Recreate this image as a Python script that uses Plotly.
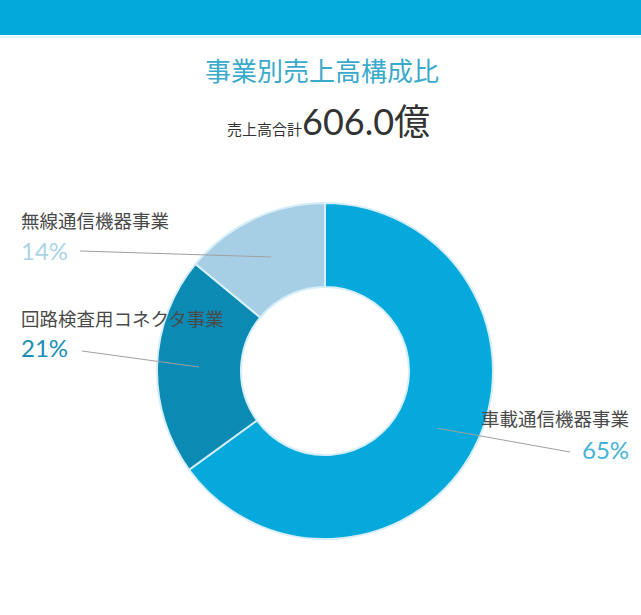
import math
import plotly.graph_objects as go

# ---- data ----
segments = ["車載通信機器事業", "回路検査用コネクタ事業", "無線通信機器事業"]
shares = [65, 21, 14]
total_label = "606.0億"
title_text = "事業別売上高構成比"
subtitle_text = "売上高合計"

# ---- styles ----
W, H = 641, 615
slice_colors = ["#06A9DB", "#0B8BB4", "#A6CFE6"]
pct_colors = ["#45B3D8", "#1A8EB5", "#ABD4E8"]
header_color = "#03A9DA"

# donut geometry in pixels
cx, cy, R = 325, 371, 168
hole = 0.5


def px(x):
    return x / W


def py(y):
    return 1 - y / H


fig = go.Figure()
fig.add_trace(go.Pie(
    labels=segments,
    values=shares,
    sort=False,
    direction="clockwise",
    rotation=0,
    hole=hole,
    textinfo="none",
    hoverinfo="label+percent",
    marker=dict(colors=slice_colors, line=dict(color="#D6EEF8", width=2)),
    domain=dict(x=[px(cx - R), px(cx + R)], y=[py(cy + R), py(cy - R)]),
    showlegend=False,
))

# label layout (pixel positions of text blocks and connector outer ends)
label_pos = {
    "車載通信機器事業": dict(x=631, ty=418, py_=449, anchor="right", lx=570, ly=452),
    "回路検査用コネクタ事業": dict(x=19, ty=318, py_=348, anchor="left", lx=82, ly=351),
    "無線通信機器事業": dict(x=19, ty=220, py_=250, anchor="left", lx=80, ly=251),
}

annotations = []
shapes = [
    dict(type="rect", xref="paper", yref="paper", x0=0, x1=1, y0=py(35), y1=1,
         fillcolor=header_color, line=dict(width=0), layer="below"),
    dict(type="line", xref="paper", yref="paper", x0=0, x1=1, y0=py(37), y1=py(37),
         line=dict(color="#E3F5FB", width=2)),
]

total = sum(shares)
cum = 0
rmid = R * (1 + hole) / 2
for name, val, pc in zip(segments, shares, pct_colors):
    mid = (cum + val / 2) / total * 2 * math.pi
    cum += val
    ix = cx + rmid * math.sin(mid)
    iy = cy - rmid * math.cos(mid)
    p = label_pos[name]
    annotations.append(dict(
        x=px(p["x"]), y=py(p["ty"]), xref="paper", yref="paper",
        text=name, showarrow=False, xanchor=p["anchor"], yanchor="middle",
        font=dict(family="Noto Sans CJK JP", size=18.5, color="#4A4A4A")))
    annotations.append(dict(
        x=px(p["x"]), y=py(p["py_"]), xref="paper", yref="paper",
        text=f"{round(val / total * 100)}%", showarrow=False,
        xanchor=p["anchor"], yanchor="middle",
        font=dict(family="Lato", size=24, color=pc)))
    shapes.append(dict(type="line", xref="paper", yref="paper",
                       x0=px(p["lx"]), y0=py(p["ly"]), x1=px(ix), y1=py(iy),
                       line=dict(color="#A0A0A0", width=1)))

annotations.append(dict(
    x=px(322), y=py(70), xref="paper", yref="paper", text=title_text,
    showarrow=False, xanchor="center", yanchor="middle",
    font=dict(family="Noto Sans CJK JP", size=26, color="#3AAACB")))
annotations.append(dict(
    x=px(328), y=py(121), xref="paper", yref="paper",
    text=f"<span style='font-size:15px'>{subtitle_text}</span>"
         f"<span style='font-size:36px'>{total_label}</span>",
    showarrow=False, xanchor="center", yanchor="middle",
    font=dict(family="Lato, Noto Sans CJK JP", size=36, color="#333333")))

fig.update_layout(
    width=W, height=H,
    margin=dict(l=0, r=0, t=0, b=0),
    paper_bgcolor="white", plot_bgcolor="white",
    annotations=annotations, shapes=shapes,
)

fig.write_html("out.html", config={"displayModeBar": False},
               post_script="document.body.style.margin='0';")
